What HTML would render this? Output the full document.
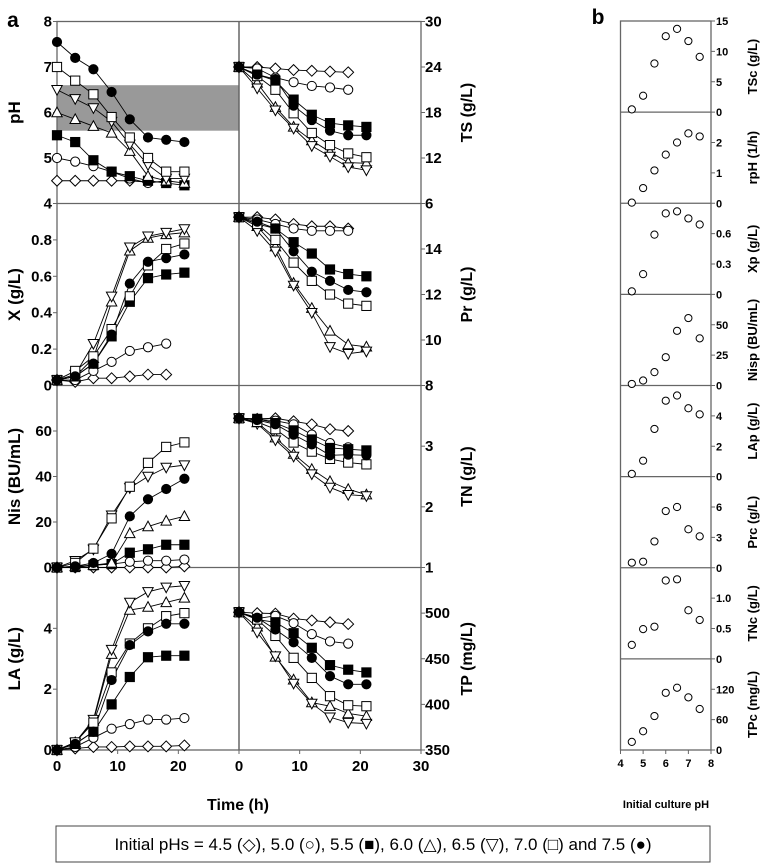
<!DOCTYPE html>
<html><head><meta charset="utf-8"><style>
body{margin:0;background:#fff;}
svg{display:block;font-family:"Liberation Sans",Arial,sans-serif;}
</style></head><body>
<svg id="chart" width="762" height="866" viewBox="0 0 762 866"></svg>
<script>
const times = [0,3,6,9,12,15,18,21];
const initialPHs = [4.5,5.0,5.5,6.0,6.5,7.0,7.5];
// order of series: 4.5, 5.0, 5.5, 6.0, 6.5, 7.0, 7.5
const phVals = [
 [4.5,4.5,4.5,4.5,4.5,4.47,4.48],
 [5.0,4.92,4.82,4.7,4.55,4.45,4.5],
 [5.5,5.35,4.95,4.7,4.6,4.5,4.45,4.4],
 [6.0,5.85,5.7,5.55,5.15,4.6,4.5,4.45],
 [6.5,6.3,6.1,5.8,5.3,4.85,4.55,4.55],
 [7.0,6.7,6.4,5.9,5.45,5.0,4.7,4.7],
 [7.55,7.2,6.95,6.45,5.85,5.45,5.4,5.35]];
const tsVals = [
 [24,24,23.8,23.6,23.5,23.4,23.3],
 [24,23.8,22.6,22.0,21.5,21.3,21.0],
 [24,23.0,22.2,19.7,17.7,16.6,16.3,16.1],
 [24,21.9,18.7,16.1,14.3,12.8,11.4,11.3],
 [24,21.2,18.3,15.9,13.6,12.2,10.8,10.4],
 [24,22.8,21.0,17.9,15.3,13.7,12.6,12.1],
 [24,23.0,22.4,18.9,17.0,15.6,15.0,15.0]];
const xVals = [
 [0.03,0.02,0.04,0.04,0.05,0.06,0.06],
 [0.03,0.03,0.08,0.13,0.19,0.21,0.23],
 [0.03,0.05,0.12,0.27,0.46,0.59,0.61,0.62],
 [0.03,0.05,0.15,0.46,0.74,0.81,0.83,0.84],
 [0.03,0.06,0.23,0.49,0.76,0.82,0.84,0.86],
 [0.03,0.08,0.16,0.31,0.49,0.66,0.75,0.78],
 [0.03,0.05,0.12,0.28,0.56,0.68,0.70,0.72]];
const prVals = [
 [15.4,15.4,15.3,15.1,15.0,15.0,14.9],
 [15.4,15.3,15.1,14.9,14.8,14.8,14.8],
 [15.4,15.1,14.9,14.3,13.8,13.1,12.9,12.8],
 [15.4,15.0,14.1,12.5,11.4,10.4,9.8,9.7],
 [15.4,14.8,13.9,12.4,11.2,9.7,9.4,9.5],
 [15.4,15.1,14.4,13.4,12.6,12.0,11.6,11.5],
 [15.4,15.2,14.9,13.9,13.0,12.6,12.2,12.1]];
const nisVals = [
 [0,0,0,0,0,0,0,0.5],
 [0,0,1,1.5,2.5,3,3,3.5],
 [0,0.2,1,1.5,6.5,8,10,10],
 [0,0.5,1,2,15,18,20.5,22.5],
 [0,3,8,23,35,40,44,45],
 [0,2,8.3,21.6,35.5,46,53,55],
 [0,0.5,2,6,22.5,30,34.5,39]];
const tnVals = [
 [3.46,3.45,3.46,3.41,3.36,3.28,3.25],
 [3.46,3.44,3.42,3.36,3.19,3.05,2.98],
 [3.46,3.45,3.38,3.26,3.11,2.97,2.95,2.93],
 [3.46,3.39,3.14,2.87,2.62,2.42,2.29,2.2],
 [3.46,3.37,3.1,2.83,2.54,2.32,2.2,2.18],
 [3.46,3.40,3.28,3.06,2.91,2.79,2.73,2.7],
 [3.46,3.43,3.36,3.19,3.03,2.85,2.86,2.85]];
const laVals = [
 [0,0.05,0.1,0.1,0.12,0.12,0.12,0.15],
 [0,0.1,0.4,0.7,0.85,1.0,1.0,1.05],
 [0,0.2,0.6,1.5,2.4,3.05,3.1,3.1],
 [0,0.25,0.95,3.15,4.6,4.7,4.85,5.0],
 [0,0.25,1.0,3.3,4.85,5.2,5.35,5.4],
 [0,0.25,0.9,2.55,3.5,4.0,4.4,4.5],
 [0,0.2,0.6,2.3,3.45,3.9,4.15,4.15]];
const tpVals = [
 [501,500,499.5,494,492,490,488],
 [501,494,497,489,477,469,466.6],
 [501,493,490,478,462,443,438,435],
 [501,485,452,427,402,398,390,387],
 [501,479,453,423,401,386,380,379],
 [501,493,475,451,429,409,399,398],
 [501,495,482,468,451,431,422,422]];
const bPH = [4.5,5.0,5.5,6.0,6.5,7.0,7.5];
const tscVals = [0.45,2.7,8.0,12.5,13.7,11.7,9.1];
const rphVals = [0.02,0.5,1.08,1.6,2.0,2.3,2.2];
const xpVals = [0.03,0.2,0.59,0.8,0.82,0.75,0.69];
const nispVals = [1.3,4.1,11,23.3,45,55.5,38.8];
const lapVals = [0.18,1.05,3.14,5.0,5.34,4.5,4.1];
const prcVals = [0.5,0.6,2.6,5.6,6.0,3.8,3.1];
const tncVals = [0.23,0.49,0.53,1.29,1.31,0.8,0.64];
const tpcVals = [16,37,67,113,123,104,81];

const svg = document.getElementById('chart');
const NS = 'http://www.w3.org/2000/svg';
function mk(tag, attrs, parent){
  const e = document.createElementNS(NS, tag);
  for (const k in attrs) e.setAttribute(k, attrs[k]);
  (parent||svg).appendChild(e);
  return e;
}
function txt(x,y,s,size,anchor,weight,parent,rot){
  const t = mk('text',{x:x,y:y,'font-size':size,'text-anchor':anchor||'middle','font-weight':weight||'bold',fill:'#000'},parent);
  if (rot) t.setAttribute('transform','rotate(-90 '+x+' '+y+')');
  t.textContent = s;
  return t;
}
const AX = '#666';
// panel a geometry
const rowsY = [21.5,203.5,385.5,567.5,750];
const xL0 = 57, xM = 239, xR = 421;
function sxL(t){ return xL0 + (t/30)*(xM-xL0); }
function sxR(t){ return xM + (t/30)*(xR-xM); }
function scaleY(row, lo, hi){ const top=rowsY[row], bot=rowsY[row+1]; return v => bot - (v-lo)/(hi-lo)*(bot-top); }

// shaded band
const yPH = scaleY(0,4,8);
const band = mk('rect',{x:xL0,y:yPH(6.6),width:xM-xL0,height:yPH(5.6)-yPH(6.6),fill:'#999'});



// frame
const frame = mk('rect',{x:xL0,y:rowsY[0],width:xR-xL0,height:rowsY[4]-rowsY[0],fill:'none',stroke:AX,'stroke-width':1.3});


for (let i=1;i<4;i++){ mk('line',{x1:xL0,x2:xR,y1:rowsY[i],y2:rowsY[i],stroke:AX,'stroke-width':1.3}); }
mk('line',{x1:xM,x2:xM,y1:rowsY[0],y2:rowsY[4],stroke:AX,'stroke-width':1.5});

function leftAxis(row, lo, hi, ticks, labels, title){
  const sy = scaleY(row,lo,hi);
  const g = mk('g',{});
  
  
  ticks.forEach((v,i)=>{
    mk('line',{x1:xL0-4,x2:xL0,y1:sy(v),y2:sy(v),stroke:AX},g);
    txt(xL0-5,sy(v)+5,labels[i],15,'end','bold',g);
  });
  const t = txt(20,(rowsY[row]+rowsY[row+1])/2,title,17,'middle','bold',g,true);
  
  
  return sy;
}
function rightAxis(row, lo, hi, ticks, labels, title){
  const sy = scaleY(row,lo,hi);
  const g = mk('g',{});
  
  
  ticks.forEach((v,i)=>{
    mk('line',{x1:xR,x2:xR+4,y1:sy(v),y2:sy(v),stroke:AX},g);
    txt(xR+4,sy(v)+5,labels[i],15,'start','bold',g);
  });
  const t = txt(472,(rowsY[row]+rowsY[row+1])/2,title,16,'middle','bold',g,true);
  
  
  return sy;
}
const sPH = leftAxis(0,4,8,[4,5,6,7,8],['4','5','6','7','8'],'pH');
const sX = leftAxis(1,0,1,[0,0.2,0.4,0.6,0.8],['0','0.2','0.4','0.6','0.8'],'X (g/L)');
const sNis = leftAxis(2,0,80,[0,20,40,60],['0','20','40','60'],'Nis (BU/mL)');
const sLA = leftAxis(3,0,6,[0,2,4],['0','2','4'],'LA (g/L)');
const sTS = rightAxis(0,6,30,[6,12,18,24,30],['6','12','18','24','30'],'TS (g/L)');
const sPr = rightAxis(1,8,16,[8,10,12,14],['8','10','12','14'],'Pr (g/L)');
const sTN = rightAxis(2,1,4,[1,2,3],['1','2','3'],'TN (g/L)');
const sTP = rightAxis(3,350,550,[350,400,450,500],['350','400','450','500'],'TP (mg/L)');

// x axis
const xg = mk('g',{});


[0,10,20].forEach(t=>{ mk('line',{x1:sxL(t),x2:sxL(t),y1:750,y2:754,stroke:AX},xg); txt(sxL(t),771,String(t),15,'middle','bold',xg); });
[0,10,20,30].forEach(t=>{ mk('line',{x1:sxR(t),x2:sxR(t),y1:750,y2:754,stroke:AX},xg); txt(sxR(t),771,String(t),15,'middle','bold',xg); });
const xt = txt(238,810,'Time (h)',16,'middle','bold');


const la = txt(13,27,'a',21,'middle','bold');



// markers
function marker(kind, x, y, parent){
  const r = 4.6;
  const base = {stroke:'#000','stroke-width':1};
  let e;
  if (kind===0) e = mk('polygon',Object.assign({points:`${x},${y-r-0.8} ${x+r+0.8},${y} ${x},${y+r+0.8} ${x-r-0.8},${y}`,fill:'#fff'},base),parent);
  else if (kind===1) e = mk('circle',Object.assign({cx:x,cy:y,r:r,fill:'#fff'},base),parent);
  else if (kind===2) e = mk('rect',Object.assign({x:x-r,y:y-r,width:2*r,height:2*r,fill:'#000'},base),parent);
  else if (kind===3) e = mk('polygon',Object.assign({points:`${x},${y-r-0.8} ${x+r+0.6},${y+r-0.4} ${x-r-0.6},${y+r-0.4}`,fill:'#fff'},base),parent);
  else if (kind===4) e = mk('polygon',Object.assign({points:`${x},${y+r+0.8} ${x+r+0.6},${y-r+0.4} ${x-r-0.6},${y-r+0.4}`,fill:'#fff'},base),parent);
  else if (kind===5) e = mk('rect',Object.assign({x:x-r,y:y-r,width:2*r,height:2*r,fill:'#fff'},base),parent);
  else e = mk('circle',Object.assign({cx:x,cy:y,r:r,fill:'#000'},base),parent);
  return e;
}
function drawSeries(vals, sx, sy, name){
  const g = mk('g',{});
  
  
  vals.forEach((arr,k)=>{
    const pts = arr.map((v,i)=>sx(times[i])+','+sy(v)).join(' ');
    const l = mk('polyline',{points:pts,fill:'none',stroke:'#000','stroke-width':0.9},g);
    
    
  });
  vals.forEach((arr,k)=>{
    arr.forEach((v,i)=>{
      const m = marker(k, sx(times[i]), sy(v), g);
      
      
    });
  });
}
drawSeries(phVals, sxL, sPH, 'ph');
drawSeries(tsVals, sxR, sTS, 'ts');
drawSeries(xVals, sxL, sX, 'x');
drawSeries(prVals, sxR, sPr, 'pr');
drawSeries(nisVals, sxL, sNis, 'nis');
drawSeries(tnVals, sxR, sTN, 'tn');
drawSeries(laVals, sxL, sLA, 'la');
drawSeries(tpVals, sxR, sTP, 'tp');

// panel b
const bx0 = 620.5, bx1 = 711;
const bRows = [21];
for (let i=1;i<=8;i++) bRows.push(21 + i*(750-21)/8);
function bsx(p){ return bx0 + (p-4)/4*(bx1-bx0); }
const bframe = mk('rect',{x:bx0,y:bRows[0],width:bx1-bx0,height:bRows[8]-bRows[0],fill:'none',stroke:AX,'stroke-width':1.3});


for (let i=1;i<8;i++) mk('line',{x1:bx0,x2:bx1,y1:bRows[i],y2:bRows[i],stroke:AX,'stroke-width':1.2});
const bDefs = [
 [tscVals,15,[0,5,10,15],['0','5','10','15'],'TSc (g/L)'],
 [rphVals,3,[0,1,2],['0','1','2'],'rpH (1/h)'],
 [xpVals,0.9,[0,0.3,0.6],['0','0.3','0.6'],'Xp (g/L)'],
 [nispVals,75,[0,25,50],['0','25','50'],'Nisp (BU/mL)'],
 [lapVals,6,[0,2,4],['0','2','4'],'LAp (g/L)'],
 [prcVals,9,[0,3,6],['0','3','6'],'Prc (g/L)'],
 [tncVals,1.5,[0,0.5,1.0],['0','0.5','1.0'],'TNc (g/L)'],
 [tpcVals,180,[0,60,120],['0','60','120'],'TPc (mg/L)']];
bDefs.forEach((d,r)=>{
  const top=bRows[r], bot=bRows[r+1];
  const sy = v => bot - v/d[1]*(bot-top);
  const g = mk('g',{});
  
  
  d[2].forEach((v,i)=>{
    mk('line',{x1:bx1,x2:bx1+4,y1:sy(v),y2:sy(v),stroke:AX},g);
    txt(bx1+5,sy(v)+4,d[3][i],11,'start','bold',g);
  });
  const t = txt(757,(top+bot)/2,d[4],13,'middle','bold',g,true);
  
  
  d[0].forEach((v,i)=>{
    const c = mk('circle',{cx:bsx(bPH[i]),cy:sy(v),r:3.6,fill:'#fff',stroke:'#000','stroke-width':1},g);
    
    
  });
});
const bxg = mk('g',{});


[4,5,6,7,8].forEach(p=>{ mk('line',{x1:bsx(p),x2:bsx(p),y1:750,y2:754,stroke:AX},bxg); txt(bsx(p),767,String(p),11,'middle','bold',bxg); });
const bxt = txt(666,808,'Initial culture pH',11,'middle','bold');


const lb = txt(598,24,'b',21,'middle','bold');



// legend
const lg = mk('g',{});


mk('rect',{x:56,y:826,width:654,height:36,fill:'#fff',stroke:'#444','stroke-width':1},lg);
const lt = txt(383,850,'Initial pHs = 4.5 (\u25C7), 5.0 (\u25CB), 5.5 (\u25A0), 6.0 (\u25B3), 6.5 (\u25BD), 7.0 (\u25A1) and 7.5 (\u25CF)',17,'middle','normal',lg);
lt.setAttribute('font-family','"Liberation Sans","DejaVu Sans",sans-serif');


</script>
</body></html>
